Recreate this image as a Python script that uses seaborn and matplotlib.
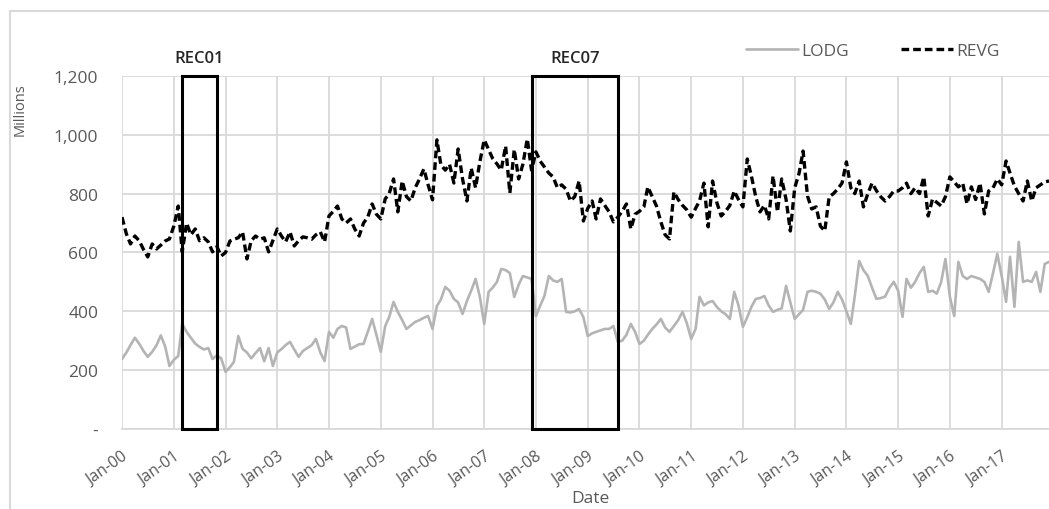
import pandas as pd
import matplotlib.pyplot as plt
import matplotlib.dates as mdates
from matplotlib.patches import Rectangle
from matplotlib.ticker import FuncFormatter
import seaborn as sns

# monthly values, millions, Jan 2000 - Dec 2017
lodg = [
    238, 260, 285, 310, 290, 265, 245, 262, 285, 318, 280, 214,
    235, 248, 357, 330, 310, 290, 279, 270, 275, 238, 250, 240,
    194, 210, 228, 316, 272, 260, 240, 258, 275, 230, 275, 214,
    260, 272, 285, 296, 270, 245, 265, 275, 285, 306, 260, 231,
    330, 310, 340, 350, 345, 272, 280, 288, 289, 330, 374, 320,
    262, 350, 380, 432, 398, 370, 340, 352, 364, 370, 378, 384,
    340, 418, 440, 483, 470, 442, 430, 391, 435, 470, 510, 450,
    357, 466, 480, 500, 544, 540, 530, 449, 490, 520, 515, 510,
    384, 420, 452, 520, 505, 500, 510, 398, 396, 400, 408, 380,
    316, 325, 330, 335, 340, 340, 350, 296, 300, 320, 357, 330,
    289, 300, 320, 340, 355, 374, 345, 330, 350, 370, 398, 360,
    306, 340, 449, 420, 430, 435, 415, 400, 390, 374, 466, 420,
    347, 380, 415, 442, 445, 452, 420, 398, 405, 410, 486, 430,
    374, 390, 405, 466, 470, 466, 460, 440, 408, 430, 466, 440,
    400, 357, 452, 571, 540, 520, 480, 442, 445, 450, 480, 500,
    470, 381, 510, 480, 500, 530, 551, 466, 470, 460, 500, 578,
    450, 384, 568, 520, 510, 520, 515, 510, 500, 466, 530, 595,
    520, 432, 585, 415, 636, 500, 505, 500, 534, 466, 561, 568,
]
revg = [
    720, 663, 629, 656, 640, 610, 585, 629, 612, 625, 639, 646,
    690, 758, 602, 700, 660, 680, 640, 650, 636, 602, 620, 588,
    600, 639, 645, 650, 670, 578, 640, 656, 645, 650, 602, 640,
    680, 655, 636, 670, 622, 640, 653, 650, 645, 660, 670, 636,
    724, 740, 758, 714, 700, 714, 680, 656, 700, 720, 765, 730,
    714, 782, 800, 850, 738, 843, 790, 775, 820, 850, 884, 830,
    779, 983, 898, 880, 900, 836, 952, 850, 775, 887, 820, 908,
    983, 950, 920, 901, 880, 962, 802, 950, 850, 900, 986, 880,
    942, 910, 891, 870, 857, 820, 830, 815, 775, 790, 843, 707,
    750, 775, 714, 782, 760, 738, 704, 720, 740, 765, 680, 730,
    740, 755, 823, 790, 758, 704, 660, 646, 806, 780, 760, 745,
    720, 750, 775, 836, 687, 843, 770, 724, 740, 760, 809, 780,
    755, 918, 860, 789, 738, 760, 714, 860, 738, 850, 780, 673,
    820, 870, 945, 792, 748, 755, 690, 673, 789, 800, 816, 836,
    908, 820, 800, 843, 755, 800, 836, 810, 789, 775, 790, 809,
    809, 820, 836, 800, 820, 800, 857, 724, 782, 770, 758, 790,
    857, 840, 823, 836, 765, 823, 780, 836, 731, 809, 820, 850,
    830, 911, 870, 826, 800, 775, 843, 775, 820, 830, 840, 843,
]
rec_names = ['REC01', 'REC07']
rec_start = ['2001-03-01', '2007-12-01']
rec_end = ['2001-11-01', '2009-08-01']

dates = pd.date_range('2000-01-01', periods=len(lodg), freq='MS')
df = pd.DataFrame({'Date': dates, 'LODG': lodg, 'REVG': revg})

sns.set_style('white')
plt.rcParams['font.family'] = ['Open Sans', 'DejaVu Sans']
txt = '#595959'
grid = '#d9d9d9'

fig = plt.figure(figsize=(10.49, 5.10), dpi=100)
ax = fig.add_axes([0.1163, 0.157, 0.8837, 0.692])

sns.lineplot(data=df, x='Date', y='LODG', ax=ax, color='#b4b4b4',
             linewidth=1.9, label='LODG')
sns.lineplot(data=df, x='Date', y='REVG', ax=ax, color='black',
             linewidth=2.4, linestyle=(0, (2.3, 1.2)), label='REVG')

for name, s, e in zip(rec_names, rec_start, rec_end):
    x0 = mdates.date2num(pd.Timestamp(s))
    x1 = mdates.date2num(pd.Timestamp(e))
    ax.add_patch(Rectangle((x0, 0), x1 - x0, 1200, fill=False,
                           ec='black', lw=2.2, zorder=5, clip_on=False))
    ax.text((x0 + x1) / 2, 1261, name, ha='center', va='center',
            fontsize=12, fontweight='semibold', color='#262626', clip_on=False)

ax.set_ylim(0, 1200)
ax.set_yticks(range(0, 1201, 200))
ax.yaxis.set_major_formatter(FuncFormatter(lambda v, p: '-' if v == 0 else f'{v:,.0f}'))
ax.set_xlim(dates[0], dates[-1])
ax.set_xticks(pd.date_range('2000-01-01', '2017-01-01', freq='YS'))
ax.xaxis.set_major_formatter(mdates.DateFormatter('%b-%y'))

ax.grid(True, color=grid, linewidth=1.3)
ax.set_axisbelow(True)
for side in ['top', 'right', 'left']:
    ax.spines[side].set_visible(False)
ax.spines['bottom'].set_color(grid)
ax.spines['bottom'].set_linewidth(1.3)

ax.tick_params(axis='y', length=0, pad=17, labelsize=12.5, labelcolor=txt)
ax.tick_params(axis='x', length=0, pad=14, labelsize=11.5, labelcolor=txt)
plt.setp(ax.get_xticklabels(), rotation=35, ha='right', rotation_mode='anchor')

ax.set_xlabel('')
ax.set_ylabel('')
fig.text(0.5624, 0.022, 'Date', ha='center', va='center', fontsize=12.5, color=txt)
fig.text(0.019, 0.785, 'Millions', rotation=90, ha='center', va='center',
         fontsize=10.5, color=txt)

ax.legend(loc='center', bbox_to_anchor=(0.81, 1.071), ncol=2, frameon=False,
          fontsize=12.5, handlelength=3.0, handletextpad=0.2, columnspacing=3.0,
          labelcolor=txt)

fig.patches.append(Rectangle((0.0095, -0.05), 1.2, 0.976 + 0.05, fill=False,
                             ec=grid, lw=1.5, transform=fig.transFigure, figure=fig))

fig.savefig('out.png', dpi=100)
